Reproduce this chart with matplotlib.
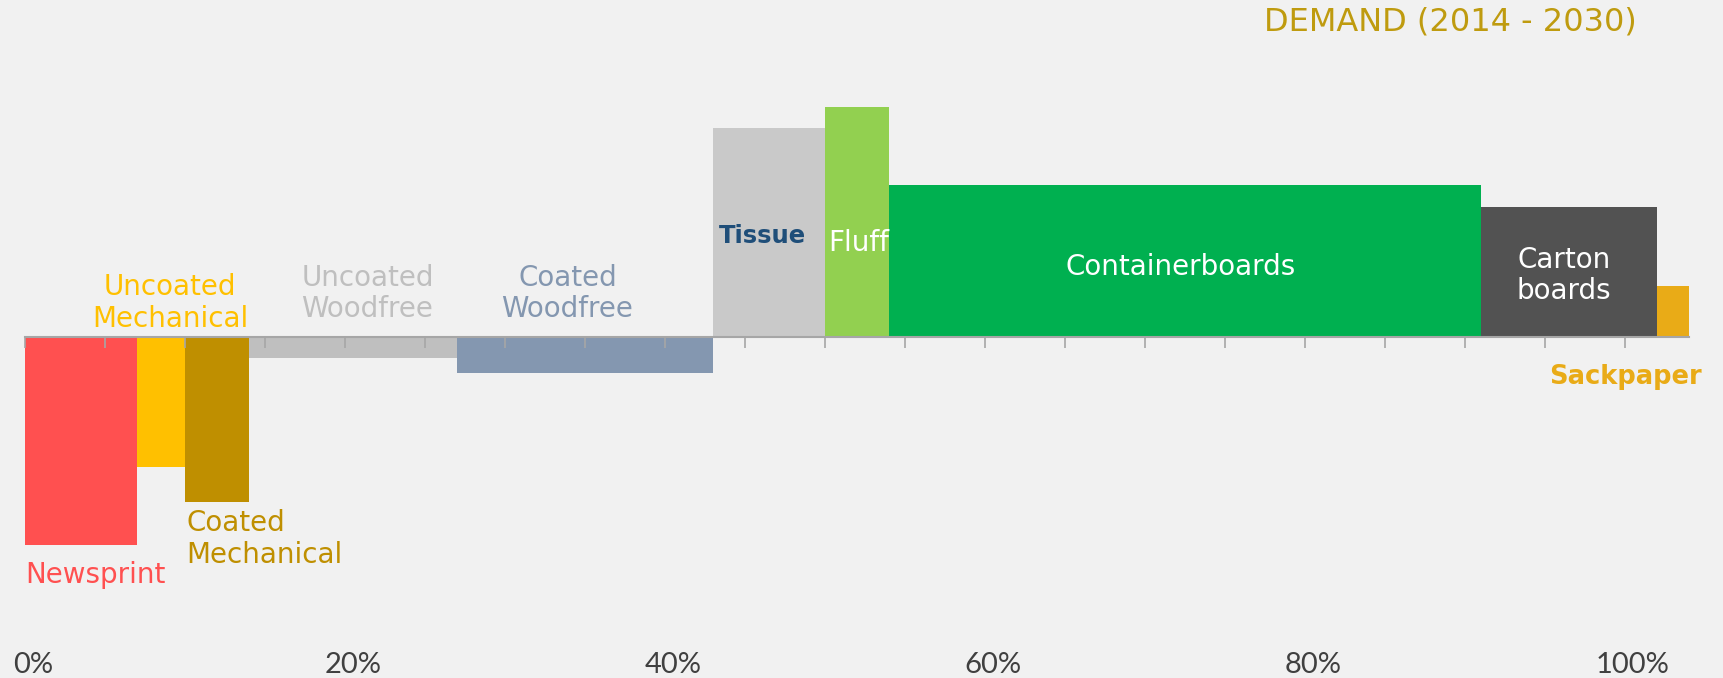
import numpy as np
import matplotlib.pyplot as plt
from matplotlib import font_manager

# データ
grades = ["Newsprint", "Uncoated Mechanical", "Coated Mechanical", "Uncoated Woodfree",
          "Coated Woodfree", "Tissue", "Fluff", "Containerboards", "Carton boards", "Sackpaper"]
share = [7, 3, 4, 13, 16, 7, 4, 37, 11, 2]          # 横幅 (%)
growth = [-4.52, -2.81, -3.58, -0.46, -0.79, 4.53, 5.0, 3.29, 2.81, 1.11]  # 高さ
colors = ["#FF5050", "#FFC000", "#BF8F00", "#BFBFBF", "#8497B0",
          "#C9C9C9", "#92D050", "#00B050", "#525252", "#E9AB17"]
tick_vals = [0, 20, 40, 60, 80, 100]
tick_labels = ["0%", "20%", "40%", "60%", "80%", "100%"]

names = {f.name for f in font_manager.fontManager.ttflist}
tick_font = "Lato" if "Lato" in names else "DejaVu Sans"
plt.rcParams['font.family'] = ['DejaVu Sans']

bg = "#F1F1F1"
fig = plt.figure(figsize=(17.23, 6.78), dpi=100, facecolor=bg)
ax = fig.add_axes([0, 0, 1, 1])
ax.set_facecolor(bg)

left = np.concatenate([[0], np.cumsum(share)[:-1]])
ax.bar(left, growth, width=share, align='edge', color=colors, linewidth=0, zorder=1)

ax.set_xlim(-25 / 16, (1723 - 25) / 16)
ax.set_ylim(-(678 - 337) / 46.1, 337 / 46.1)

# 軸線と目盛り
for s in ["top", "right", "left"]:
    ax.spines[s].set_visible(False)
ax.spines["bottom"].set_position(("data", 0))
ax.spines["bottom"].set_bounds(0, sum(share))
ax.spines["bottom"].set_color("#A6A6A6")
ax.spines["bottom"].set_linewidth(1.5)
ax.set_xticks(np.arange(0, 101, 5))
ax.tick_params(axis='x', direction='out', length=8, width=1.2, color="#A6A6A6", labelbottom=False)
ax.set_yticks([])

for v, lab in zip(tick_vals, tick_labels):
    ax.text(v + 0.5, -7.11, lab, ha='center', va='center', fontsize=21, color="#404040",
            family=[tick_font, 'DejaVu Sans'])

fs = 20
ls = 1.15
ax.text(9.06, 0.74, "Uncoated\nMechanical", ha='center', va='center', fontsize=fs, color="#FFC000", linespacing=ls)
ax.text(21.4, 0.94, "Uncoated\nWoodfree", ha='center', va='center', fontsize=fs, color="#BFBFBF", linespacing=ls)
ax.text(33.9, 0.94, "Coated\nWoodfree", ha='center', va='center', fontsize=fs, color="#8497B0", linespacing=ls)
ax.text(10.1, -4.38, "Coated\nMechanical", ha='left', va='center', fontsize=fs, color="#BF8F00", linespacing=ls)
ax.text(4.4, -5.16, "Newsprint", ha='center', va='center', fontsize=fs, color="#FF5050")
ax.text(46.1, 2.19, "Tissue", ha='center', va='center', fontsize=17.5, color="#1F4E79", fontweight='bold')
ax.text(52.1, 2.04, "Fluff", ha='center', va='center', fontsize=fs, color="white")
ax.text(72.2, 1.52, "Containerboards", ha='center', va='center', fontsize=fs, color="white")
ax.text(96.2, 1.33, "Carton\nboards", ha='center', va='center', fontsize=fs, color="white", linespacing=ls)
ax.text(100.0, -0.87, "Sackpaper", ha='center', va='center', fontsize=18.5, color="#E9AB17", fontweight='bold')

fig.text(1637 / 1723, 1 - 22 / 678, "DEMAND (2014 - 2030)", ha='right', va='center',
         fontsize=23, color="#BF9B0F")

fig.savefig("out.png", dpi=100, facecolor=bg)
